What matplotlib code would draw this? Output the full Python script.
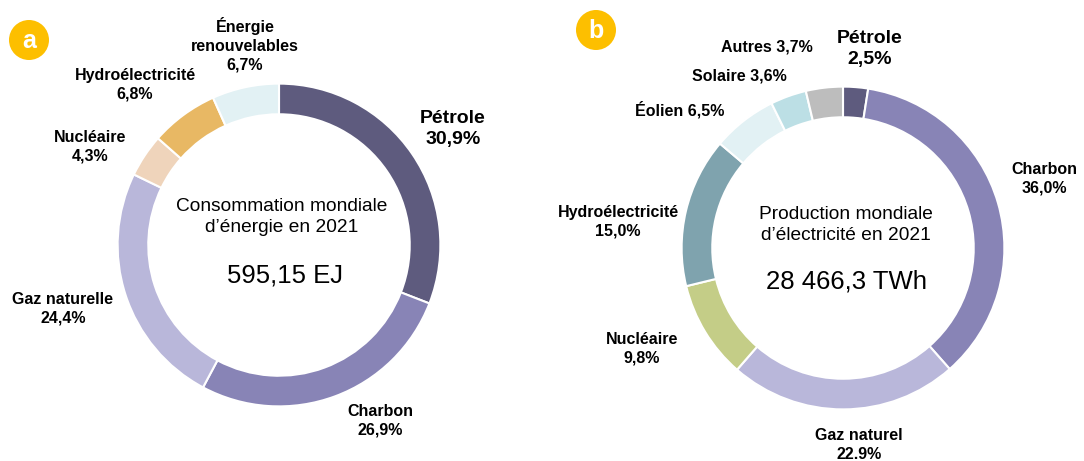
import matplotlib.pyplot as plt
from matplotlib.patches import Circle

plt.rcParams['font.family'] = ['Liberation Sans', 'DejaVu Sans']

W, H = 1084, 461

# panel a : consommation mondiale d'energie 2021
energie_noms = ["Pétrole", "Charbon", "Gaz naturelle", "Nucléaire",
                "Hydroélectricité", "Énergie\nrenouvelables"]
energie_pct = [30.9, 26.9, 24.4, 4.3, 6.8, 6.7]
energie_col = ["#5e5b7e", "#8884b6", "#b9b7da", "#efd4bb", "#e8b864", "#e2f1f4"]

# panel b : production mondiale d'electricite 2021
elec_noms = ["Pétrole", "Charbon", "Gaz naturel", "Nucléaire",
             "Hydroélectricité", "Éolien", "Solaire", "Autres"]
elec_pct = [2.5, 36.0, 22.9, 9.8, 15.0, 6.5, 3.6, 3.7]
elec_col = ["#5e5b7e", "#8884b6", "#b9b7da", "#c4cd87", "#7fa3ae",
            "#e2f1f4", "#bcdfe5", "#bdbdbd"]

fig = plt.figure(figsize=(W / 100, H / 100), dpi=100)


def px(x, y):
    return x / W, 1 - y / H


def donut(cx, cy, r, vals, cols):
    ax = fig.add_axes([(cx - r) / W, 1 - (cy + r) / H, 2 * r / W, 2 * r / H])
    ax.pie(vals, colors=cols, startangle=90, counterclock=False,
           radius=1, wedgeprops=dict(width=0.19, edgecolor="white", linewidth=1.5))
    ax.set_xlim(-1.01, 1.01)
    ax.set_ylim(-1.01, 1.01)
    ax.set_aspect("equal")
    return ax


donut(279, 245, 163, energie_pct, energie_col)
donut(843, 248, 163, elec_pct, elec_col)


def fr(v, sep=","):
    return ("%.1f" % v).replace(".", sep) + "%"


LF = 11.5  # taille des etiquettes

# labels panel a
lab_a = [(453, 129, 14), (380, 421, LF), (63, 309, LF),
         (90, 147, LF), (135, 85, LF), (245, 45, LF)]
for nom, v, (x, y, fs) in zip(energie_noms, energie_pct, lab_a):
    fig.text(*px(x, y), nom + "\n" + fr(v), ha="center", va="center",
             fontsize=fs, fontweight="bold", linespacing=1.3)

# labels panel b
lab_b = {"Pétrole": (870, 49, 14, True), "Charbon": (1044, 179, LF, True),
         "Gaz naturel": (859, 445, LF, True), "Nucléaire": (642, 349, LF, True),
         "Hydroélectricité": (618, 222, LF, True), "Éolien": (680, 110, LF, False),
         "Solaire": (739, 76, LF, False), "Autres": (767, 47, LF, False)}
for nom, v in zip(elec_noms, elec_pct):
    x, y, fs, deux = lab_b[nom]
    sep = "." if nom == "Gaz naturel" else ","
    txt = nom + ("\n" if deux else " ") + fr(v, sep)
    fig.text(*px(x, y), txt, ha="center", va="center",
             fontsize=fs, fontweight="bold", linespacing=1.3)

# textes centraux
fig.text(*px(282, 217), "Consommation mondiale\nd\u2019énergie en 2021",
         ha="center", va="center", fontsize=13.8, linespacing=1.25)
fig.text(*px(285, 275), "595,15 EJ", ha="center", va="center", fontsize=18.5)
fig.text(*px(846, 225), "Production mondiale\nd\u2019électricité en 2021",
         ha="center", va="center", fontsize=13.8, linespacing=1.25)
fig.text(*px(846, 282), "28 466,3 TWh", ha="center", va="center", fontsize=18.5)

# pastilles a / b
bg = fig.add_axes([0, 0, 1, 1], facecolor="none")
bg.set_xlim(0, W)
bg.set_ylim(H, 0)
bg.set_aspect("equal")
bg.axis("off")
for lettre, (x, y) in zip(["a", "b"], [(29, 40), (596, 30)]):
    bg.add_patch(Circle((x, y), 20, color="#fdbf00", lw=0))
    bg.text(x, y + 1, lettre, ha="center", va="center", color="white",
            fontsize=18, fontweight="bold")

fig.savefig("out.png", dpi=100)
